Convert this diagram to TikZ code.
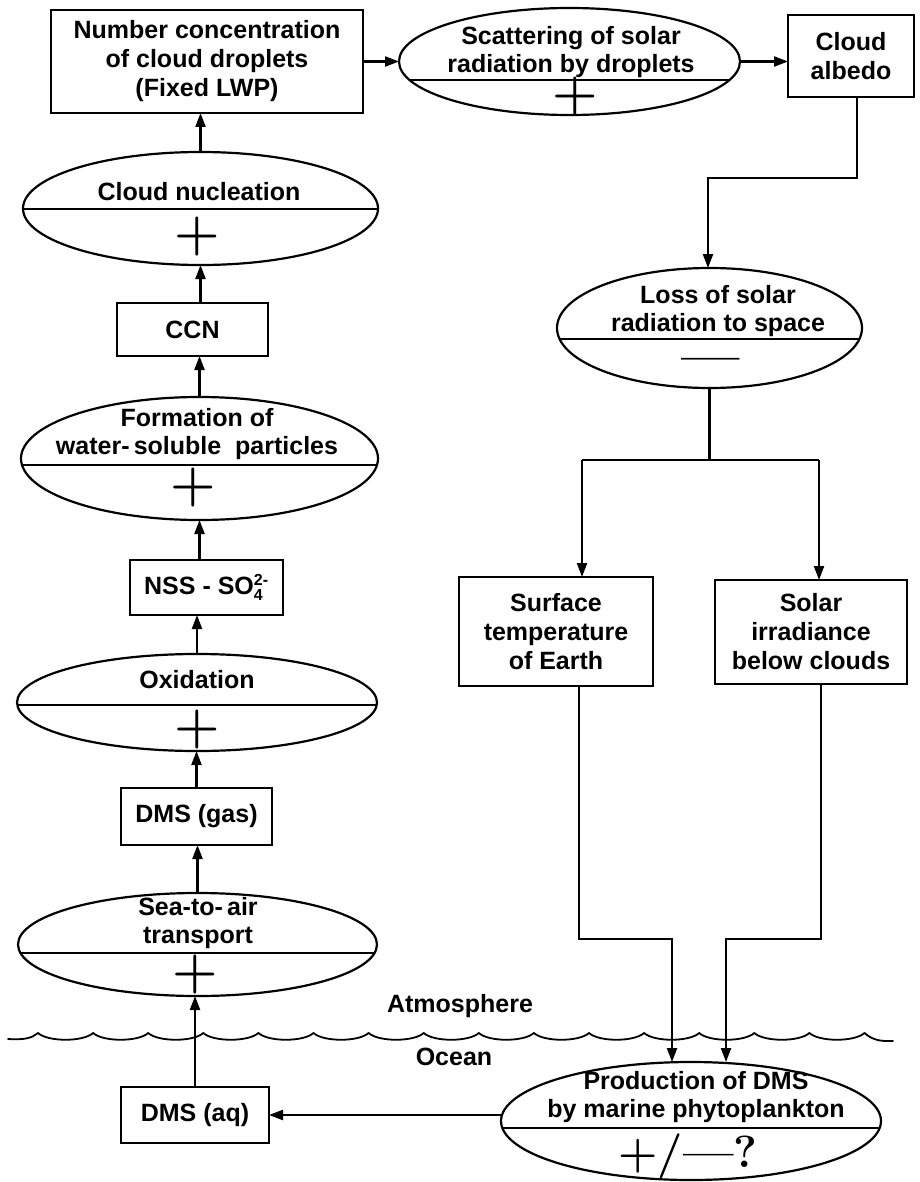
\documentclass[tikz,border=0pt]{standalone}
\usepackage{fontspec}
\setmainfont{Liberation Sans}
\newfontfamily\lmfont{Latin Modern Roman}
\usetikzlibrary{shapes.geometric,arrows.meta}
\begin{document}
\begin{tikzpicture}[x=1pt,y=-1pt,
  bx/.style={draw,rectangle,line width=2.2pt,inner sep=0pt,outer sep=0pt,align=center,font={\bfseries\fontsize{25}{29}\selectfont}},
  ell/.style={draw,ellipse,line width=2.2pt,inner sep=0pt,outer sep=0pt},
  divline/.style={path picture={\draw[line width=2.2pt] ([yshift=-#1]path picture bounding box.west) -- ([yshift=-#1]path picture bounding box.east);}},
  txt/.style={inner sep=0pt,align=center,font={\bfseries\fontsize{25}{28}\selectfont}},
  sign/.style={inner sep=0pt,font={\lmfont\bfseries\fontsize{52}{52}\selectfont}},
  arr/.style={line width=2.2pt,-{Triangle[length=14pt,width=10pt]}},
  con/.style={line width=2.2pt},
  wave/.style={line width=1.8pt,line cap=round,line join=round}
]
\useasboundingbox (0,0) rectangle (919,1182);

% top row
\node[bx,minimum width=312pt,minimum height=103pt] (num) at (207,61.5) {Number concentration\\of cloud droplets\\(Fixed LWP)};
\node[ell,minimum width=341pt,minimum height=107pt,divline=18.5pt] (scat) at (569.5,61.5) {};
\node[txt] (scatT) at (571,52.5) {Scattering of solar\\radiation by droplets};
\node[sign] (scatS) at (575,97) {+};
\node[bx,minimum width=126pt,minimum height=82pt] (alb) at (851,56) {Cloud\\albedo};

% left column
\node[ell,minimum width=355pt,minimum height=113pt,divline=0.5pt] (nuc) at (200.5,208.5) {};
\node[txt] (nucT) at (199,192) {Cloud nucleation};
\node[sign] (nucS) at (197,237) {+};
\node[bx,minimum width=151pt,minimum height=53pt] (ccn) at (192.5,329.5) {CCN};
\node[ell,minimum width=357pt,minimum height=123pt,divline=6.5pt] (form) at (199.5,458.5) {};
\node[txt] (formT) at (197,434) {Formation of\\water-\,soluble\ \ particles};
\node[sign] (formS) at (193,488) {+};
\node[bx,minimum width=153pt,minimum height=55pt] (nss) at (206.5,587.5) {NSS - SO\rlap{\raisebox{9pt}{\fontsize{16}{16}\selectfont 2-}}\raisebox{-6pt}{\fontsize{16}{16}\selectfont 4}\hspace{6pt}};
\node[ell,minimum width=360pt,minimum height=97pt,divline=2.5pt] (oxi) at (197,702.5) {};
\node[txt] (oxiT) at (197,680) {Oxidation};
\node[sign] (oxiS) at (197,730) {+};
\node[bx,minimum width=151pt,minimum height=57pt] (gas) at (196.5,816.5) {DMS (gas)};
\node[ell,minimum width=359pt,minimum height=103pt,divline=8.5pt] (sea) at (197.5,944.5) {};
\node[txt] (seaT) at (198,923) {Sea-to-\,air\\transport};
\node[sign] (seaS) at (195,975) {+};
\node[bx,minimum width=148pt,minimum height=56pt] (aq) at (195,1115) {DMS (aq)};

% right column
\node[ell,minimum width=305pt,minimum height=120pt,divline=11pt] (loss) at (709.5,328) {};
\node[txt] (lossT) at (718,311) {Loss of solar\\radiation to space};
\node[sign] (lossS) at (711,366) {—};
\node[bx,minimum width=194pt,minimum height=109pt] (surf) at (556,631.5) {Surface\\temperature\\of Earth};
\node[bx,minimum width=192pt,minimum height=104pt] (sol) at (811,632) {Solar\\irradiance\\below clouds};
\node[ell,minimum width=380pt,minimum height=118pt,divline=7pt] (prod) at (691,1121) {};
\node[txt] (prodT) at (696,1097) {Production of DMS\\by marine phytoplankton};
\node[sign,font={\lmfont\bfseries\fontsize{45}{45}\selectfont}] (prodS) at (688,1156) {+/—?};

\node[txt] (atm) at (460,1006) {Atmosphere};
\node[txt] (ocean) at (454,1057) {Ocean};

% sea surface
\draw[wave] (8,1039) .. controls (25,1040) and (32,1038) .. (38,1033);
\foreach \k in {0,...,14} {
  \pgfmathsetmacro\xa{38+55.1*\k}
  \pgfmathsetmacro\xb{\xa+55.1}
  \draw[wave] (\xa,1033) .. controls (\xa+10,1042) and (\xb-10,1042) .. (\xb,1033);
}
\draw[wave] (864.5,1033) .. controls (874.5,1042) and (885,1041) .. (893,1041);

% connectors
\coordinate (a1) at (857,178);
\coordinate (j1) at (708,178);
\coordinate (j2) at (709.5,460);
\coordinate (jl) at (582,460);
\coordinate (jr) at (819,460);
\coordinate (kl) at (579,939);
\coordinate (kl2) at (672,939);
\coordinate (kr) at (821,939);
\coordinate (kr2) at (726,939);

\draw[arr] (num.east) -- (scat.west);
\draw[arr] (scat.east) -- (scat.east -| alb.west);
\draw[arr] (a1 |- alb.south) -- (a1) -- (j1) -- (j1 |- loss.north);
\draw[con] (loss.south) -- (j2);
\draw[con] (jl) -- (jr);
\draw[arr] (jl) -- (jl |- surf.north);
\draw[arr] (jr) -- (jr |- sol.north);
\draw[arr] (kl |- surf.south) -- (kl) -- (kl2) -- (kl2 |- prod.north);
\draw[arr] (kr |- sol.south) -- (kr) -- (kr2) -- (kr2 |- prod.north);
\draw[arr] (prod.west |- aq.east) -- (aq.east);
\draw[arr] (aq.north) -- (aq.north |- sea.south);
\draw[arr] (sea.north) -- (sea.north |- gas.south);
\draw[arr] (gas.north) -- (gas.north |- oxi.south);
\draw[arr] (oxi.north) -- (oxi.north |- nss.south);
\draw[arr] (form.south |- nss.north) -- (form.south);
\draw[arr] (form.north) -- (form.north |- ccn.south);
\draw[arr] (nuc.south |- ccn.north) -- (nuc.south);
\draw[arr] (nuc.north) -- (nuc.north |- num.south);
\end{tikzpicture}
\end{document}
